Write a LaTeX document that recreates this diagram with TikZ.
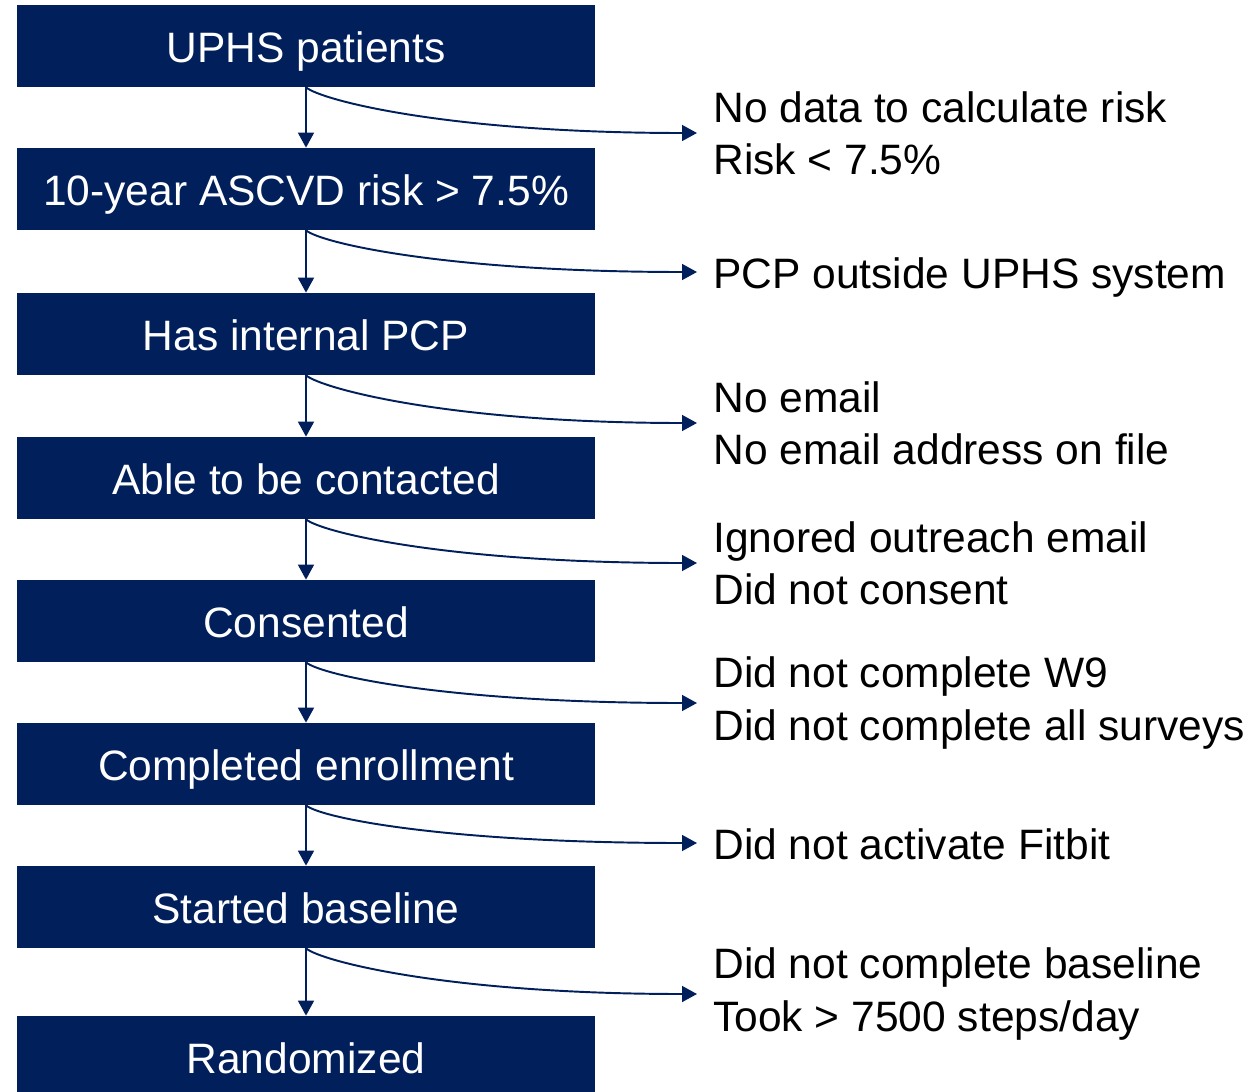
\documentclass[tikz,border=0pt]{standalone}
\usepackage{fontspec}
\setmainfont{Liberation Sans}
\usetikzlibrary{arrows.meta}
\definecolor{penn}{RGB}{0,31,91}

\begin{document}
\begin{tikzpicture}[x=0.02cm,y=-0.02cm,
    stage/.style={fill=penn,draw=none,text=white,minimum width=11.56cm,minimum height=1.64cm,inner sep=0pt,text height=19.3pt,text depth=0pt,font=\fontsize{24.2}{29.6}\selectfont},
    lost/.style={anchor=west,align=left,inner xsep=0.32cm,inner ysep=0pt,font=\fontsize{24.2}{29.6}\selectfont},
    lostone/.style={lost,text height=22pt,text depth=3.1pt},
    flow/.style={penn,line width=1.1pt,-{Triangle[width=9pt,length=8.5pt]}},
    side/.style={flow,out=-40,in=180,out distance=0.4cm,in distance=5cm}]
        \useasboundingbox (0,0) rectangle (1252,1092);

        \node [stage] (s1) at(306,46) {UPHS patients};
        \node [stage] (s2) at(306,189) {10-year ASCVD risk > 7.5\%};
        \node [stage] (s3) at(306,334) {Has internal PCP};
        \node [stage] (s4) at(306,478) {Able to be contacted};
        \node [stage] (s5) at(306,621) {Consented};
        \node [stage] (s6) at(306,764) {Completed enrollment};
        \node [stage] (s7) at(306,907) {Started baseline};
        \node [stage] (s8) at(306,1057) {Randomized};

        \node [lost] (x1) at(697,133) {No data to calculate risk\\Risk < 7.5\%};
        \node [lostone] (x2) at(697,272) {PCP outside UPHS system};
        \node [lost] (x3) at(697,423) {No email\\No email address on file};
        \node [lost] (x4) at(697,563) {Ignored outreach email\\Did not consent};
        \node [lost] (x5) at(697,703) {Did not complete W9\\Did not complete all surveys};
        \node [lostone] (x6) at(697,843) {Did not activate Fitbit};
        \node [lost] (x7) at(697,994) {Did not complete baseline\\Took > 7500 steps/day};

        \draw [flow] (s1)--(s2);
        \draw [flow] (s2)--(s3);
        \draw [flow] (s3)--(s4);
        \draw [flow] (s4)--(s5);
        \draw [flow] (s5)--(s6);
        \draw [flow] (s6)--(s7);
        \draw [flow] (s7)--(s8);

        \draw [side] (s1.south) to (x1.west);
        \draw [side] (s2.south) to (x2.west);
        \draw [side] (s3.south) to (x3.west);
        \draw [side] (s4.south) to (x4.west);
        \draw [side] (s5.south) to (x5.west);
        \draw [side] (s6.south) to (x6.west);
        \draw [side] (s7.south) to (x7.west);
    \end{tikzpicture}
\end{document}
